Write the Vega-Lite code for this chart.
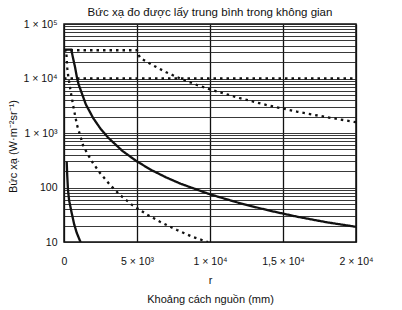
{
  "$schema": "https://vega.github.io/schema/vega-lite/v6.json",
  "width": 292,
  "height": 218,
  "autosize": {"type": "none"},
  "padding": {"left": 64, "top": 24, "right": 46, "bottom": 68},
  "background": "#ffffff",
  "config": {
    "font": "Liberation Sans",
    "view": {"stroke": "#111111", "strokeWidth": 1.5}
  },
  "title": {
    "text": "Bức xạ đo được lấy trung bình trong không gian",
    "fontSize": 11.5,
    "fontWeight": "normal",
    "font": "Liberation Sans",
    "color": "#111111",
    "anchor": "middle",
    "offset": 1
  },
  "data": {
    "values": [
      {"s": "A", "t": "solid", "r": 185, "I": 300},
      {"s": "A", "t": "solid", "r": 220, "I": 170},
      {"s": "A", "t": "solid", "r": 274, "I": 89},
      {"s": "A", "t": "solid", "r": 350, "I": 58},
      {"s": "A", "t": "solid", "r": 527, "I": 34},
      {"s": "A", "t": "solid", "r": 700, "I": 21},
      {"s": "A", "t": "solid", "r": 870, "I": 14.8},
      {"s": "A", "t": "solid", "r": 1096, "I": 10.5},
      {"s": "A", "t": "solid", "r": 1160, "I": 10},
      {"s": "B", "t": "solid", "r": 0, "I": 34000},
      {"s": "B", "t": "solid", "r": 500, "I": 34000},
      {"s": "B", "t": "solid", "r": 600, "I": 25000},
      {"s": "B", "t": "solid", "r": 750, "I": 16500},
      {"s": "B", "t": "solid", "r": 900, "I": 10000},
      {"s": "B", "t": "solid", "r": 1000, "I": 7800},
      {"s": "B", "t": "solid", "r": 1500, "I": 3330},
      {"s": "B", "t": "solid", "r": 2000, "I": 1875},
      {"s": "B", "t": "solid", "r": 2500, "I": 1200},
      {"s": "B", "t": "solid", "r": 3000, "I": 833},
      {"s": "B", "t": "solid", "r": 4000, "I": 469},
      {"s": "B", "t": "solid", "r": 5000, "I": 300},
      {"s": "B", "t": "solid", "r": 6000, "I": 208},
      {"s": "B", "t": "solid", "r": 7000, "I": 153},
      {"s": "B", "t": "solid", "r": 8000, "I": 117},
      {"s": "B", "t": "solid", "r": 10000, "I": 75},
      {"s": "B", "t": "solid", "r": 12000, "I": 52},
      {"s": "B", "t": "solid", "r": 14000, "I": 38},
      {"s": "B", "t": "solid", "r": 16000, "I": 29},
      {"s": "B", "t": "solid", "r": 18000, "I": 23},
      {"s": "B", "t": "solid", "r": 20000, "I": 19},
      {"s": "C", "t": "dotted", "r": 0, "I": 33000},
      {"s": "C", "t": "dotted", "r": 5000, "I": 33000},
      {"s": "C", "t": "dotted", "r": 5200, "I": 24000},
      {"s": "C", "t": "dotted", "r": 6000, "I": 18000},
      {"s": "C", "t": "dotted", "r": 7000, "I": 13000},
      {"s": "C", "t": "dotted", "r": 8000, "I": 9900},
      {"s": "C", "t": "dotted", "r": 9000, "I": 7800},
      {"s": "C", "t": "dotted", "r": 10000, "I": 6300},
      {"s": "C", "t": "dotted", "r": 12000, "I": 4400},
      {"s": "C", "t": "dotted", "r": 14000, "I": 3200},
      {"s": "C", "t": "dotted", "r": 16000, "I": 2450},
      {"s": "C", "t": "dotted", "r": 18000, "I": 1950},
      {"s": "C", "t": "dotted", "r": 20000, "I": 1580},
      {"s": "D", "t": "dotted", "r": 0, "I": 33000},
      {"s": "D", "t": "dotted", "r": 150, "I": 33000},
      {"s": "D", "t": "dotted", "r": 185, "I": 23000},
      {"s": "D", "t": "dotted", "r": 226, "I": 15500},
      {"s": "D", "t": "dotted", "r": 295, "I": 10700},
      {"s": "D", "t": "dotted", "r": 459, "I": 5750},
      {"s": "D", "t": "dotted", "r": 596, "I": 3540},
      {"s": "D", "t": "dotted", "r": 753, "I": 2140},
      {"s": "D", "t": "dotted", "r": 890, "I": 1410},
      {"s": "D", "t": "dotted", "r": 1096, "I": 920},
      {"s": "D", "t": "dotted", "r": 1301, "I": 600},
      {"s": "D", "t": "dotted", "r": 1575, "I": 430},
      {"s": "D", "t": "dotted", "r": 1986, "I": 280},
      {"s": "D", "t": "dotted", "r": 2466, "I": 185},
      {"s": "D", "t": "dotted", "r": 3151, "I": 112},
      {"s": "D", "t": "dotted", "r": 3836, "I": 73},
      {"s": "D", "t": "dotted", "r": 4658, "I": 48},
      {"s": "D", "t": "dotted", "r": 5685, "I": 32},
      {"s": "D", "t": "dotted", "r": 6575, "I": 23.5},
      {"s": "D", "t": "dotted", "r": 7740, "I": 16.6},
      {"s": "D", "t": "dotted", "r": 8836, "I": 12.3},
      {"s": "D", "t": "dotted", "r": 9863, "I": 10},
      {"s": "E", "t": "dotted", "r": 0, "I": 10000},
      {"s": "E", "t": "dotted", "r": 20000, "I": 10000}
    ]
  },
  "mark": {"type": "line", "color": "#111111", "strokeWidth": 2.3, "clip": true, "strokeCap": "butt"},
  "encoding": {
    "x": {
      "field": "r",
      "type": "quantitative",
      "scale": {"domain": [0, 20000], "nice": false},
      "axis": {
        "values": [0, 5000, 10000, 15000, 20000],
        "labelExpr": "datum.value == 0 ? '0' : datum.value == 5000 ? '5 × 10³' : datum.value == 10000 ? '1 × 10⁴' : datum.value == 15000 ? '1,5 × 10⁴' : '2 × 10⁴'",
        "labelFontSize": 10.5,
        "labelColor": "#111111",
        "labelPadding": 14,
        "labelOverlap": false,
        "labelFlush": false,
        "ticks": false,
        "domain": false,
        "grid": true,
        "gridColor": "#111111",
        "gridWidth": 1.3,
        "gridOpacity": 1,
        "title": ["r", "Khoảng cách nguồn (mm)"],
        "titleFontSize": 11,
        "titleFontWeight": "normal",
        "titleColor": "#111111",
        "titleLineHeight": 19,
        "titlePadding": 8
      }
    },
    "y": {
      "field": "I",
      "type": "quantitative",
      "scale": {"type": "log", "domain": [10, 100000], "nice": false},
      "axis": {
        "values": [10, 20, 30, 40, 50, 60, 70, 80, 90, 100, 200, 300, 400, 500, 600, 700, 800, 900, 1000, 2000, 3000, 4000, 5000, 6000, 7000, 8000, 9000, 10000, 20000, 30000, 40000, 50000, 60000, 70000, 80000, 90000, 100000],
        "labelExpr": "datum.value == 100000 ? '1 × 10⁵' : datum.value == 10000 ? '1 × 10⁴' : datum.value == 1000 ? '1 × 10³' : datum.value == 100 ? '100' : datum.value == 10 ? '10' : ''",
        "labelFontSize": 10.5,
        "labelColor": "#111111",
        "labelPadding": 7,
        "labelOverlap": false,
        "labelFlush": false,
        "ticks": false,
        "domain": false,
        "grid": true,
        "gridColor": "#222222",
        "gridWidth": 0.9,
        "gridOpacity": 1,
        "title": "Bức xạ (W·m⁻²sr⁻¹)",
        "titleFontSize": 11,
        "titleFontWeight": "normal",
        "titleColor": "#111111",
        "titlePadding": 5,
        "titleY": 122
      }
    },
    "detail": {"field": "s", "type": "nominal"},
    "strokeDash": {
      "field": "t",
      "type": "nominal",
      "scale": {"domain": ["solid", "dotted"], "range": [[1, 0], [2.5, 4]]},
      "legend": null
    }
  }
}
